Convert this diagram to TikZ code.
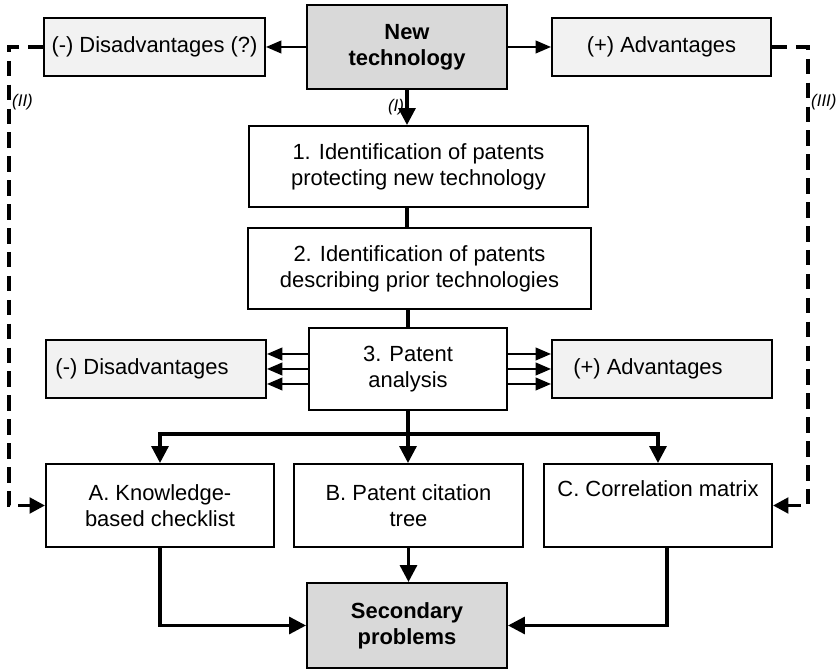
\documentclass[tikz,border=0pt]{standalone}
\usepackage{fontspec}
\setmainfont{Liberation Sans}
\usetikzlibrary{arrows.meta}

\begin{document}
\begin{tikzpicture}[
        box/.style={draw, line width=1.4pt, inner sep=0pt, align=center, font=\fontsize{15.6}{18.5}\selectfont},
        grey/.style={box, fill=black!15, font=\fontsize{15.6}{18.5}\selectfont\bfseries},
        pale/.style={box, fill=black!5},
        flow/.style={line width=2.3pt},
        flowarrow/.style={flow, -{Triangle[length=12pt, width=12pt]}},
        sidearrow/.style={line width=1.5pt, -{Triangle[length=11pt, width=9pt]}},
        dashline/.style={line width=2.6pt, dash pattern=on 11pt off 6pt, -{Triangle[length=11pt, width=11pt]}},
        tag/.style={font=\fontsize{12}{14}\selectfont\itshape, inner sep=1pt}
    ]
        \useasboundingbox (0,0) rectangle (20.975,16.725);

        \node[grey, minimum width=5cm, minimum height=2.1cm] (newtech) at (10.175,15.55) {New\\technology};
        \node[pale, minimum width=5.525cm, minimum height=1.45cm] (disq) at (3.8625,15.55) {(-) Disadvantages (?)};
        \node[pale, minimum width=5.475cm, minimum height=1.45cm] (advq) at (16.5375,15.55) {(+) Advantages};
        \node[box, minimum width=8.475cm, minimum height=2.025cm] (step1) at (10.4625,12.5625) {1. Identification of patents\\protecting new technology};
        \node[box, minimum width=8.575cm, minimum height=2.025cm] (step2) at (10.4875,10.0125) {2. Identification of patents\\describing prior technologies};
        \node[box, minimum width=4.95cm, minimum height=2.05cm] (step3) at (10.2,7.5) {3. Patent\\analysis};
        \node[pale, minimum width=5.5cm, minimum height=1.45cm] (dis) at (3.9,7.5) {(-) Disadvantages\hspace*{0.7cm}};
        \node[pale, minimum width=5.5cm, minimum height=1.45cm] (adv) at (16.55,7.5) {(+) Advantages\hspace*{0.7cm}};
        \node[box, minimum width=5.7cm, minimum height=2.075cm] (checklist) at (4.0,4.0875) {A. Knowledge-\\based checklist};
        \node[box, minimum width=5.725cm, minimum height=2.075cm] (tree) at (10.2125,4.0875) {B. Patent citation\\tree};
        \node[box, minimum width=5.7cm, minimum height=2.075cm] (corr) at (16.45,4.0875) {C. Correlation matrix\\\strut};
        \node[grey, minimum width=5cm, minimum height=2.125cm] (sec) at (10.175,1.0875) {Secondary\\problems};

        \draw[sidearrow] (newtech.west) -- (disq.east);
        \draw[sidearrow] (newtech.east) -- (advq.west);
        \draw[flowarrow] (newtech.south) -- (newtech.south |- step1.north) node[tag, midway, left] {(I)};
        \draw[flow] (step1.south -| newtech) -- (step2.north -| newtech);
        \draw[flow] (step2.south -| step3) -- (step3.north);
        \foreach \d in {-0.375,0,0.375} {
            \draw[sidearrow] ([yshift=\d cm]step3.west) -- ([yshift=\d cm]dis.east);
            \draw[sidearrow] ([yshift=\d cm]step3.east) -- ([yshift=\d cm]adv.west);
        }
        \draw[flow] (step3.south) -- ++(0,-0.575) coordinate (bar);
        \draw[flowarrow] (bar) -| (checklist.north);
        \draw[flowarrow] (bar) -- (bar |- tree.north);
        \draw[flowarrow] (bar) -| (corr.north);
        \draw[flowarrow] (checklist.south) |- (sec.west);
        \draw[flowarrow] (tree.south) -- (tree.south |- sec.north);
        \draw[flowarrow] ([xshift=0.225cm]corr.south) |- (sec.east);
        \draw[dashline] (disq.west) -- ++(-0.85,0) |- node[tag, pos=0.06, right] {(II)} (checklist.west);
        \draw[dashline] (advq.east) -- ++(0.9,0) |- node[tag, pos=0.06, right] {(III)} (corr.east);
    \end{tikzpicture}
\end{document}
